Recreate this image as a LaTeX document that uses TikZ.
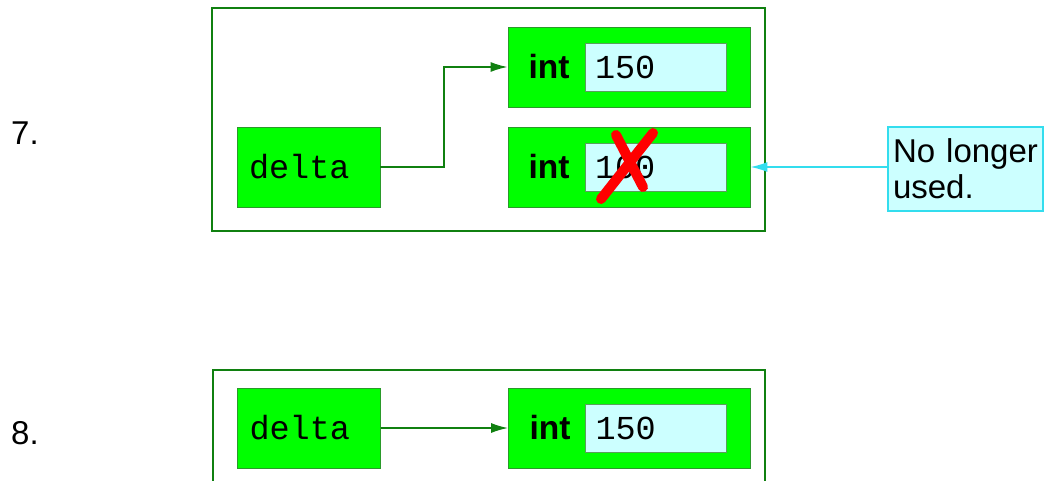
\documentclass[tikz,border=0pt]{standalone}
\usepackage{fontspec}
\setmainfont{Liberation Sans}
\setmonofont{Liberation Mono}
\usepackage{tikz}
\usetikzlibrary{arrows.meta,calc}

\definecolor{boxgreen}{HTML}{00FF00}
\definecolor{framegreen}{HTML}{108010}
\definecolor{edgegreen}{HTML}{2A9A2A}
\definecolor{valfill}{HTML}{CCFFFF}
\definecolor{valedge}{HTML}{5AA05A}
\definecolor{noteedge}{HTML}{33DDEE}

\begin{document}
\begin{tikzpicture}[
  x=1pt, y=-1pt,
  frame/.style={rectangle, draw=framegreen, line width=1.6pt, inner sep=0pt},
  varbox/.style={rectangle, draw=edgegreen, fill=boxgreen, line width=0.8pt,
                 minimum width=143pt, minimum height=80pt, inner xsep=12pt,
                 text width=119pt, align=left, font=\fontsize{33.5}{38}\selectfont\ttfamily},
  objbox/.style={rectangle, draw=edgegreen, fill=boxgreen, line width=0.8pt,
                 minimum width=242pt, minimum height=80pt},
  typelabel/.style={font=\fontsize{33.5}{38}\selectfont\bfseries, inner sep=0pt},
  valbox/.style={rectangle, draw=valedge, fill=valfill, line width=0.8pt,
                 minimum width=141pt, minimum height=48pt, inner xsep=10pt,
                 text width=121pt, align=left, font=\fontsize{33.5}{38}\selectfont\ttfamily},
  note/.style={rectangle, draw=noteedge, fill=valfill, line width=1.2pt,
               minimum width=155pt, minimum height=84pt, inner xsep=5pt,
               text width=145pt, align=left, font=\fontsize{33}{36}\selectfont},
  steplabel/.style={font=\fontsize{33}{38}\selectfont, inner sep=0pt},
  arrow/.style={-{Latex[length=17pt,width=10pt]}, draw=framegreen, line width=1.6pt},
  notearrow/.style={-{Latex[length=17pt,width=10pt]}, draw=noteedge, line width=1.6pt}
]
  \clip (0,0) rectangle (1048,481);

  % step 7
  \node[steplabel] (lab7) at (25,133) {7.};
  \node[frame, minimum width=553pt, minimum height=223pt] (frame7) at (488.5,119.5) {};
  \node[varbox] (delta7) at (308.5,167) {delta};
  \node[objbox] (new7) at (629,67) {};
  \node[typelabel] (int7a) at (549,67) {int};
  \node[valbox] (val7a) at (655.5,67) {150};
  \node[objbox] (old7) at (629,167) {};
  \node[typelabel] (int7b) at (549,167) {int};
  \node[valbox] (val7b) at (655.5,167) {100};
  \node[note] (note7) at (965.5,169) {No longer\\used.};

  \coordinate (bend7) at (444,167);
  \draw[arrow] (delta7.east) -- (bend7) |- (new7.west);
  \draw[notearrow] (note7.west |- old7.east) -- (old7.east);
  % crossed-out value
  \draw[red, line width=10pt, line cap=round]
    (601,199) -- (653,133)
    (616,135) -- (643,187);

  % step 8
  \node[steplabel] (lab8) at (25,433) {8.};
  \node[frame, minimum width=552pt, minimum height=140pt] (frame8) at (489,440) {};
  \node[varbox] (delta8) at (309,428) {delta};
  \node[objbox] (new8) at (629.5,428) {};
  \node[typelabel] (int8) at (550,428) {int};
  \node[valbox] (val8) at (656,428) {150};
  \draw[arrow] (delta8.east) -- (new8.west);
\end{tikzpicture}
\end{document}
